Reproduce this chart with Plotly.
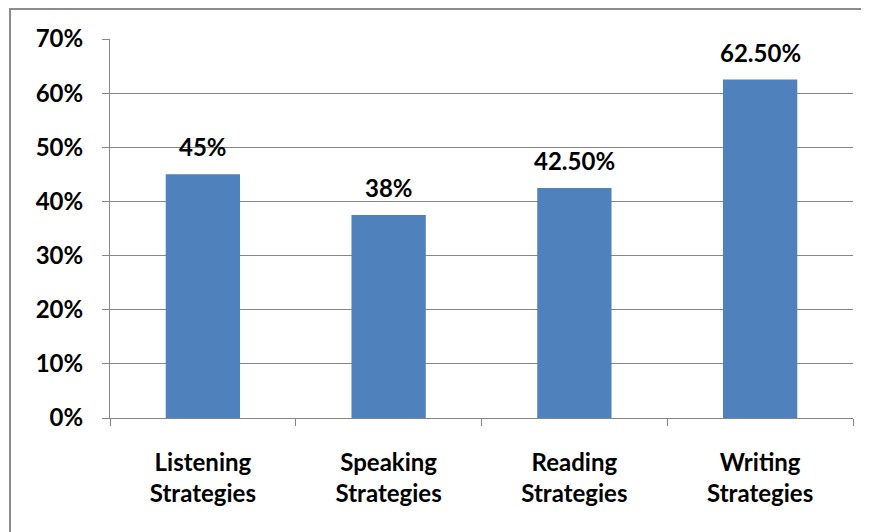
import plotly.graph_objects as go

categories = ["Listening<br>Strategies", "Speaking<br>Strategies", "Reading<br>Strategies", "Writing<br>Strategies"]
values = [0.45, 0.375, 0.425, 0.625]
value_labels = ["45%", "38%", "42.50%", "62.50%"]
y_ticks = [0, 0.1, 0.2, 0.3, 0.4, 0.5, 0.6, 0.7]
y_tick_labels = ["0%", "10%", "20%", "30%", "40%", "50%", "60%", "70%"]

FONT = "Lato"
FS = 24
GRID = "#868686"

fig = go.Figure(go.Bar(
    x=categories, y=values,
    marker=dict(color="#4F81BD", line=dict(width=0)),
    width=0.4,
))

for c, v, t in zip(categories, values, value_labels):
    fig.add_annotation(
        x=c, y=v, text=t, showarrow=False,
        xanchor="center", yanchor="bottom", yshift=11,
        font=dict(family=FONT, size=FS, color="black", weight="bold"),
    )

# the page body has an 8px margin; the div is placed at (8, 8)
OFF = 8
W, H = 869 - OFF, 532 - OFF
L, R, T, B = 110 - OFF, 16, 39 - OFF, 114
pw, ph = W - L - R, H - T - B

fig.update_layout(
    width=W, height=H,
    margin=dict(l=L, r=R, t=T, b=B),
    plot_bgcolor="white", paper_bgcolor="white",
    showlegend=False,
    font=dict(family=FONT, size=FS, color="black", weight="bold"),
    xaxis=dict(
        showline=True, linecolor=GRID, linewidth=1,
        ticks="outside", tickson="boundaries", ticklen=7, tickcolor=GRID,
        tickfont=dict(family=FONT, size=FS, color="black", weight="bold"),
        ticklabelstandoff=23,
        showgrid=False,
    ),
    yaxis=dict(
        range=[0, 0.7], tickvals=y_ticks, ticktext=y_tick_labels,
        showline=True, linecolor=GRID, linewidth=1,
        ticks="outside", ticklen=7, tickcolor=GRID,
        showgrid=True, gridcolor=GRID, gridwidth=1,
        tickfont=dict(family=FONT, size=FS, color="black", weight="bold"),
        ticklabelstandoff=14,
        zeroline=False,
    ),
    shapes=[dict(
        type="rect", xref="paper", yref="paper",
        x0=(10 - 110) / pw, x1=(869 + 5 - 110) / pw,
        y0=-(532 + 5 - 418) / ph, y1=(418 - 9) / ph,
        line=dict(color="#8C8C8C", width=2), fillcolor="rgba(0,0,0,0)",
    )],
)

fig.write_html("out.html")
